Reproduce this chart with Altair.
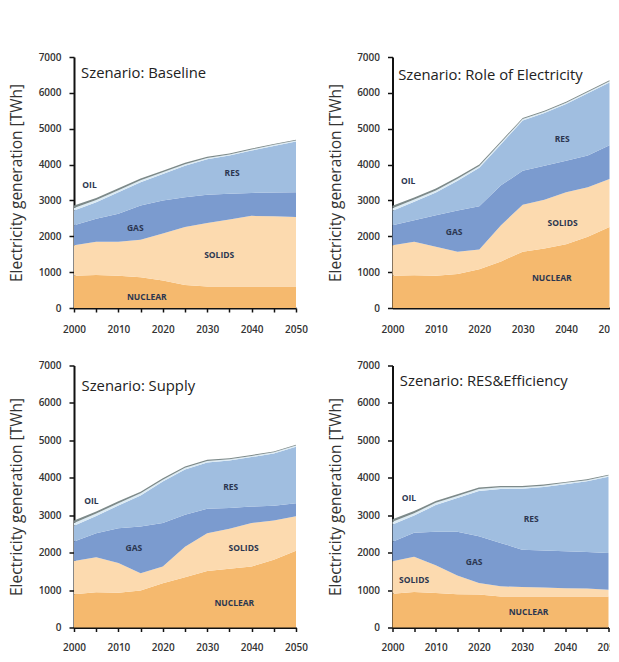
import altair as alt
import pandas as pd

years = [2000, 2005, 2010, 2015, 2020, 2025, 2030, 2035, 2040, 2045, 2050]
sources = ["Nuclear", "Solids", "Gas", "RES", "Other", "Oil"]
colors = ["#f5b96e", "#fcdaaf", "#7b9bcf", "#a0bee0", "#dcebf4", "#7d8a8a"]

# Baseline
base_nuclear = [900, 920, 900, 860, 770, 640, 600, 600, 600, 600, 600]
base_solids = [850, 930, 950, 1040, 1310, 1620, 1770, 1870, 1970, 1960, 1940]
base_gas = [560, 640, 780, 960, 920, 830, 790, 715, 640, 660, 690]
base_res = [410, 460, 600, 650, 740, 880, 990, 1065, 1180, 1300, 1410]
base_other = [70, 60, 55, 50, 45, 40, 35, 30, 30, 30, 30]
base_oil = [70, 60, 55, 50, 45, 40, 35, 30, 25, 25, 25]

# Role of Electricity
roe_nuclear = [900, 910, 900, 950, 1080, 1300, 1570, 1660, 1780, 1990, 2260]
roe_solids = [850, 940, 810, 620, 550, 1010, 1310, 1360, 1450, 1380, 1340]
roe_gas = [560, 600, 880, 1150, 1210, 1110, 950, 950, 880, 880, 940]
roe_res = [400, 510, 630, 830, 1070, 1150, 1400, 1465, 1580, 1740, 1750]
roe_other = [75, 65, 60, 55, 50, 45, 40, 35, 35, 35, 35]
roe_oil = [65, 55, 50, 45, 40, 35, 30, 30, 25, 25, 25]

# Supply
sup_nuclear = [890, 940, 930, 990, 1180, 1340, 1510, 1570, 1630, 1810, 2050]
sup_solids = [890, 940, 790, 460, 450, 820, 1010, 1070, 1160, 1050, 920]
sup_gas = [520, 640, 930, 1250, 1160, 850, 650, 550, 440, 390, 350]
sup_res = [420, 460, 610, 830, 1110, 1210, 1240, 1270, 1325, 1400, 1510]
sup_other = [75, 65, 60, 55, 50, 45, 40, 35, 30, 30, 30]
sup_oil = [65, 55, 50, 45, 40, 35, 30, 25, 25, 20, 20]

# RES & Efficiency
eff_nuclear = [900, 950, 920, 890, 880, 830, 830, 830, 830, 830, 830]
eff_solids = [870, 940, 740, 500, 310, 270, 250, 240, 220, 210, 180]
eff_gas = [520, 640, 900, 1170, 1250, 1160, 1000, 990, 990, 980, 980]
eff_res = [460, 460, 710, 900, 1210, 1440, 1630, 1695, 1790, 1885, 2040]
eff_other = [75, 65, 60, 55, 50, 45, 40, 35, 35, 30, 30]
eff_oil = [65, 55, 50, 45, 40, 35, 30, 30, 25, 25, 20]

label_texts = ["OIL", "RES", "GAS", "SOLIDS", "NUCLEAR"]
base_lbl_x = [2003.5, 2035.6, 2013.8, 2032.7, 2016.4]
base_lbl_y = [3420, 3760, 2245, 1465, 306]
roe_lbl_x = [2003.6, 2039.1, 2014.2, 2039.2, 2036.7]
roe_lbl_y = [3555, 4710, 2124, 2382, 831]
sup_lbl_x = [2003.9, 2035.3, 2013.5, 2038.2, 2036.1]
sup_lbl_y = [3393, 3749, 2119, 2137, 650]
eff_lbl_x = [2003.8, 2032.1, 2018.9, 2005.0, 2031.5]
eff_lbl_y = [3450, 2887, 1752, 1278, 411]

titles = ["Szenario: Baseline", "Szenario: Role of Electricity",
          "Szenario: Supply", "Szenario: RES&Efficiency"]
title_x = [2001.6, 2001.3, 2001.7, 2001.7]
title_y = [6518, 6482, 6438, 6550]

x_ticks = years
y_ticks = [0, 1000, 2000, 3000, 4000, 5000, 6000, 7000]

FONT = "Open Sans"


def panel(series, lx, ly, title, tx, ty, w, h, show_xticks=True, xlab_pad=12):
    rows = []
    for k, (s, vals) in enumerate(zip(sources, series)):
        for yr, v in zip(years, vals):
            rows.append({"year": yr, "source": s, "order": k, "value": v})
    df = pd.DataFrame(rows)
    xscale = alt.Scale(domain=[2000, 2050], nice=False, zero=False)
    yscale = alt.Scale(domain=[0, 7000], nice=False)
    xaxis = alt.Axis(
        values=x_ticks, format="d",
        labelExpr="datum.value % 10 === 0 ? datum.label : ''",
        title=None, grid=False, domainColor="#111", domainWidth=2,
        tickColor="#111", tickWidth=1.5, tickSize=4 if show_xticks else 0,
        labelPadding=xlab_pad,
        labelFlush=False, labelOverlap=False,
        labelFontSize=10, labelFont=FONT, labelFontWeight=600, labelColor="#333",
    )
    yaxis = alt.Axis(
        values=y_ticks, format="d", title="Electricity generation [TWh]",
        titleFontSize=15.5, titleFont=FONT, titleFontWeight="normal",
        titleColor="#333", titlePadding=13.5, grid=False,
        domainColor="#111", domainWidth=2, tickColor="#111", tickWidth=1.5,
        tickSize=5, labelPadding=8, labelFontSize=10, labelFont=FONT,
        labelOverlap=False, labelFlush=False,
        labelFontWeight=600, labelColor="#333",
    )
    area = alt.Chart(df).mark_area(interpolate="linear").encode(
        x=alt.X("year:Q", scale=xscale, axis=xaxis),
        y=alt.Y("value:Q", stack="zero", scale=yscale, axis=yaxis),
        color=alt.Color("source:N", scale=alt.Scale(domain=sources, range=colors), legend=None),
        order=alt.Order("order:Q"),
    )
    ldf = pd.DataFrame({"year": lx, "value": ly, "text": label_texts})
    labels = alt.Chart(ldf).mark_text(
        font=FONT, fontSize=8.5, fontWeight="bold", color="#2b3650"
    ).encode(
        x=alt.X("year:Q", scale=xscale, axis=xaxis),
        y=alt.Y("value:Q", stack=None, scale=yscale, axis=yaxis),
        text="text:N",
    )
    tdf = pd.DataFrame({"year": [tx], "value": [ty], "text": [title]})
    tmark = alt.Chart(tdf).mark_text(
        font=FONT, fontSize=14.8, color="#222", align="left", baseline="middle"
    ).encode(
        x=alt.X("year:Q", scale=xscale, axis=xaxis),
        y=alt.Y("value:Q", stack=None, scale=yscale, axis=yaxis),
        text="text:N",
    )
    return alt.layer(area, labels, tmark).properties(width=w, height=h)


p1 = panel([base_nuclear, base_solids, base_gas, base_res, base_other, base_oil],
           base_lbl_x, base_lbl_y, titles[0], title_x[0], title_y[0], 222, 251)
p2 = panel([roe_nuclear, roe_solids, roe_gas, roe_res, roe_other, roe_oil],
           roe_lbl_x, roe_lbl_y, titles[1], title_x[1], title_y[1], 217, 251,
           show_xticks=False, xlab_pad=16)
p3 = panel([sup_nuclear, sup_solids, sup_gas, sup_res, sup_other, sup_oil],
           sup_lbl_x, sup_lbl_y, titles[2], title_x[2], title_y[2], 222, 262, xlab_pad=10.5)
p4 = panel([eff_nuclear, eff_solids, eff_gas, eff_res, eff_other, eff_oil],
           eff_lbl_x, eff_lbl_y, titles[3], title_x[3], title_y[3], 216, 262, xlab_pad=10.5)

chart = alt.concat(
    p1, p2, p3, p4, columns=2, align="none",
    spacing={"row": 26.5, "column": 19.5},
).properties(
    padding={"left": 1, "top": 44, "right": -11, "bottom": 1},
    background="white",
).configure_view(stroke=None)

chart.save("out.html", embed_options={"renderer": "svg", "actions": False})
